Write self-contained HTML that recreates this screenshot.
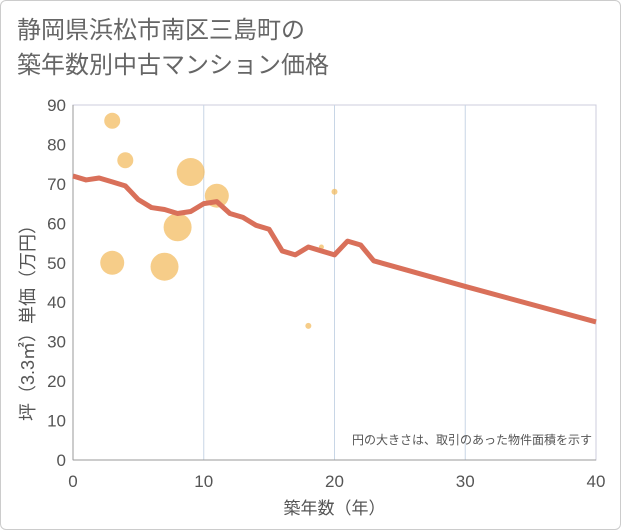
<!DOCTYPE html>
<html><head><meta charset="utf-8"><style>
body{margin:0;background:#fff;}
#wrap{width:621px;height:530px;position:relative;overflow:hidden;font-family:"Liberation Sans","Noto Sans CJK JP",sans-serif;}
#frame{position:absolute;left:0;top:0;width:619px;height:528px;border:1px solid #ccc;border-radius:6px;}
#title{position:absolute;left:17px;top:13px;font-size:24px;line-height:35px;color:#666;}
</style></head><body>
<div id="wrap">
<div id="frame"></div>
<div id="title">静岡県浜松市南区三島町の<br>築年数別中古マンション価格</div>
<svg id="svg" width="621" height="530" style="position:absolute;left:0;top:0"></svg>
</div>
<script>
const lineYears=[0,1,2,3,4,5,6,7,8,9,10,11,12,13,14,15,16,17,18,19,20,21,22,23,30,40];
const lineValues=[72,71,71.5,70.5,69.5,66,64,63.5,62.5,63,65,65.5,62.5,61.5,59.5,58.5,53,52,54,53,52,55.5,54.5,50.5,44,35];
const bubbleYears=[3,4,3,7,8,9,11,18,19,20];
const bubbleValues=[86,76,50,49,59,73,67,34,54,68];
const bubbleSizes=[8,8,12,14,14,14,12,3,2.5,3];
const xTicks=[0,10,20,30,40];
const yTicks=[0,10,20,30,40,50,60,70,80,90];
const X0=73,X1=596,Y0=460,Y1=105;
const sx=v=>X0+(v-0)/40*(X1-X0);
const sy=v=>Y0-(v-0)/90*(Y0-Y1);
const svg=document.getElementById('svg');
const NS='http://www.w3.org/2000/svg';
function mk(t,a){const e=document.createElementNS(NS,t);for(const k in a)e.setAttribute(k,a[k]);svg.appendChild(e);return e;}
let r=mk('rect',{x:X0,y:Y1,width:X1-X0,height:Y0-Y1,fill:'none',stroke:'#ccd',"stroke-width":1});


xTicks.forEach(t=>{
 if(t>0&&t<40){const l=mk('line',{x1:sx(t),x2:sx(t),y1:Y1,y2:Y0,stroke:'#c8d6e6'});
 
 }
 const tx=mk('text',{x:sx(t),y:487,"text-anchor":"middle","font-size":17,fill:'#555'});tx.textContent=t;
 
 
});
yTicks.forEach(t=>{
 const tx=mk('text',{x:66,y:sy(t)+6,"text-anchor":"end","font-size":17,fill:'#555'});tx.textContent=t;
 
 
});
const axl=mk('line',{x1:X0,x2:X0,y1:Y1,y2:Y0,stroke:'#999'});


const bxl=mk('line',{x1:X0,x2:X1,y1:Y0,y2:Y0,stroke:'#999'});


bubbleYears.forEach((y,i)=>{
 const c=mk('circle',{cx:sx(y),cy:sy(bubbleValues[i]),r:bubbleSizes[i],fill:'#f2b857',"fill-opacity":0.7});
 
 
});
const p=mk('polyline',{points:lineYears.map((y,i)=>sx(y)+','+sy(lineValues[i])).join(' '),fill:'none',stroke:'#d9705a',"stroke-width":5,"stroke-linejoin":"round"});


const note=mk('text',{x:592,y:444,"text-anchor":"end","font-size":12,fill:'#555'});note.textContent='円の大きさは、取引のあった物件面積を示す';


const xt=mk('text',{x:sx(20),y:514,"text-anchor":"middle","font-size":17,fill:'#555'});xt.textContent='築年数（年）';


const yt=mk('text',{x:0,y:0,"text-anchor":"middle","font-size":18,fill:'#555',transform:'translate(34,'+((Y0+Y1)/2+36)+') rotate(-90)'});yt.textContent='坪（3.3㎡）単価（万円）';


</script>
</body></html>
